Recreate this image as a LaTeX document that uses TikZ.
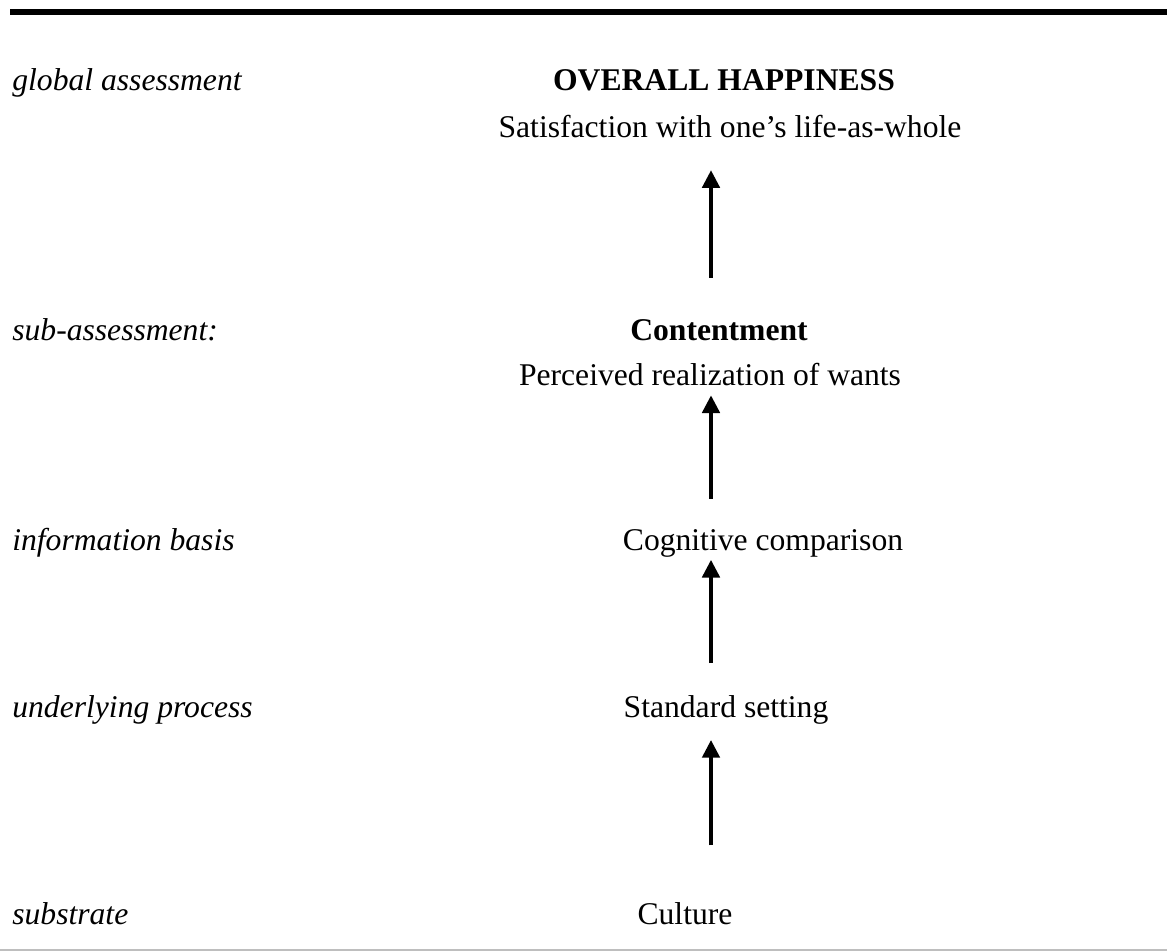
\documentclass[tikz,border=0pt]{standalone}
\usepackage{fontspec}
\setmainfont{Liberation Serif}
\usepackage{tikz}
\usetikzlibrary{arrows.meta,calc,positioning}
\definecolor{RuleGray}{RGB}{190,190,190}

\tikzset{
	lvl/.style={anchor=base west, inner sep=0pt, font=\fontsize{18}{21}\selectfont\itshape},
	txt/.style={anchor=base, inner sep=0pt, font=\fontsize{18}{21}\selectfont},
	hd/.style={txt, font=\fontsize{18}{21}\selectfont\bfseries},
	arr/.style={-{Triangle[width=10pt,length=10pt]}, line width=1.8pt}
}

\begin{document}
\begin{tikzpicture}[x=0.02cm, y=-0.02cm]
			\useasboundingbox (0,0) rectangle (1167,952);
			
			% rules
			\draw[line width=3.4pt] (10,12) -- (1167,12);
			\draw[RuleGray, line width=1pt] (0,950) -- (1167,950);
			
			% levels (left column)
			\node[lvl] (lglobal) at (12,91) {global assessment};
			\node[lvl] (lsub) at (12,341) {sub-assessment:};
			\node[lvl] (linfo) at (12,551) {information basis};
			\node[lvl] (lproc) at (12,718) {underlying process};
			\node[lvl] (lsubst) at (12,924) {substrate};
			
			% chain
			\node[hd] (happy) at (724,91) {OVERALL HAPPINESS};
			\node[txt] (satisf) at (730,138) {Satisfaction with one’s life-as-whole};
			\node[hd] (content) at (719,341) {Contentment};
			\node[txt] (wants) at (710,386) {Perceived realization of wants};
			\node[txt] (cognit) at (763,551) {Cognitive comparison};
			\node[txt] (standard) at (726,718) {Standard setting};
			\node[txt] (culture) at (685,924) {Culture};
			
			\coordinate (axis) at (711,0);
			
			% arrows
			\draw[arr, shorten <=24pt, shorten >=18pt] (content.north -| axis) -- (satisf.south -| axis);
			\draw[arr, shorten <=17.5pt, shorten >=5pt] (cognit.north -| axis) -- (wants.south -| axis);
			\draw[arr, shorten <=18.5pt, shorten >=1pt] (standard.north -| axis) -- (cognit.south -| axis);
			\draw[arr, shorten <=32pt, shorten >=8.5pt] (culture.north -| axis) -- (standard.south -| axis);
		\end{tikzpicture}
\end{document}
